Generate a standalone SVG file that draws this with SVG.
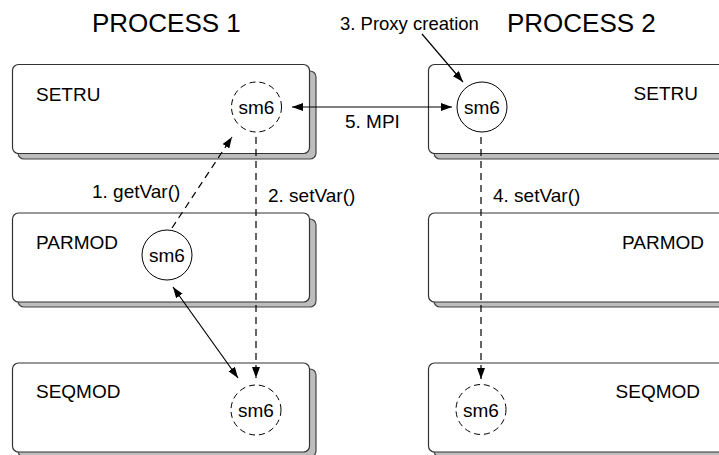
<svg xmlns="http://www.w3.org/2000/svg" width="719" height="455" viewBox="0 0 719 455">
<defs>
<style>
text{font-family:"Liberation Sans",Arial,sans-serif;fill:#000}
.title{font-size:26px}
.lbl{font-size:19px}
.edge{font-size:18.5px}
.box{fill:#fff;stroke:#333;stroke-width:1.2}
.shadow{fill:#bdbdbd;stroke:#444;stroke-width:1.2}
.circ{fill:#fff;stroke:#000;stroke-width:1}
.dcirc{fill:#fff;stroke:#000;stroke-width:1;stroke-dasharray:6 4}
.ln{fill:none;stroke:#000;stroke-width:1.2}
.dash{stroke-dasharray:7 5}
</style>
<marker id="ah" viewBox="0 0 11 8" markerWidth="11" markerHeight="8" refX="11" refY="4" orient="auto-start-reverse" markerUnits="userSpaceOnUse">
<path d="M0,0 L11,4 L0,8 z" fill="#000"/>
</marker>
</defs>
<rect width="719" height="455" fill="#fff"/>
<text class="title" x="92" y="32">PROCESS 1</text>
<text class="title" x="507" y="32">PROCESS 2</text>

<g id="setru1">
<rect class="shadow" x="18" y="71" width="298" height="88" rx="6"/>
<rect class="box" x="12.5" y="64.5" width="297" height="89" rx="6"/>
<text class="lbl" x="36" y="101">SETRU</text>
</g>
<g id="parmod1">
<rect class="shadow" x="18" y="219" width="298" height="88" rx="6"/>
<rect class="box" x="12.5" y="213" width="297" height="89" rx="6"/>
<text class="lbl" x="36" y="249">PARMOD</text>
</g>
<g id="seqmod1">
<rect class="shadow" x="18" y="369" width="298" height="88" rx="6"/>
<rect class="box" x="12.5" y="363" width="297" height="89" rx="6"/>
<text class="lbl" x="36" y="398">SEQMOD</text>
</g>
<g id="setru2">
<rect class="shadow" x="434" y="71" width="320" height="88" rx="6"/>
<rect class="box" x="428.5" y="64.5" width="320" height="89" rx="6"/>
<text class="lbl" x="698" y="100" text-anchor="end">SETRU</text>
</g>
<g id="parmod2">
<rect class="shadow" x="434" y="219" width="320" height="88" rx="6"/>
<rect class="box" x="428.5" y="213" width="320" height="89" rx="6"/>
<text class="lbl" x="704" y="249" text-anchor="end">PARMOD</text>
</g>
<g id="seqmod2">
<rect class="shadow" x="434" y="369" width="320" height="88" rx="6"/>
<rect class="box" x="428.5" y="363" width="320" height="89" rx="6"/>
<text class="lbl" x="700" y="398" text-anchor="end">SEQMOD</text>
</g>

<g id="sm6-setru1">
<circle class="dcirc" cx="256.5" cy="107" r="25"/>
<text class="lbl" x="256.5" y="114" text-anchor="middle">sm6</text>
</g>
<g id="sm6-setru2">
<circle class="circ" cx="482" cy="107" r="25"/>
<text class="lbl" x="482" y="114" text-anchor="middle">sm6</text>
</g>
<g id="sm6-parmod1">
<circle class="circ" cx="167" cy="255" r="25"/>
<text class="lbl" x="167" y="262" text-anchor="middle">sm6</text>
</g>
<g id="sm6-seqmod1">
<circle class="dcirc" cx="256" cy="410" r="25"/>
<text class="lbl" x="256" y="417" text-anchor="middle">sm6</text>
</g>
<g id="sm6-seqmod2">
<circle class="dcirc" cx="481" cy="409.5" r="25"/>
<text class="lbl" x="481" y="416.5" text-anchor="middle">sm6</text>
</g>

<g id="connectors">
<line class="ln" x1="292" y1="107" x2="452" y2="107" marker-start="url(#ah)" marker-end="url(#ah)"/>
<line class="ln" x1="422" y1="34" x2="463" y2="82" marker-end="url(#ah)"/>
<line class="ln dash" x1="172" y1="228" x2="232" y2="137" marker-end="url(#ah)"/>
<line class="ln dash" x1="256" y1="137" x2="256" y2="378" marker-end="url(#ah)"/>
<line class="ln" x1="173" y1="287" x2="238" y2="378" marker-start="url(#ah)" marker-end="url(#ah)"/>
<line class="ln dash" x1="481" y1="137" x2="481" y2="379" marker-end="url(#ah)"/>
<text class="edge" x="340" y="30">3. Proxy creation</text>
<text class="lbl" x="345" y="128">5. MPI</text>
<text class="lbl" x="92" y="198">1. getVar()</text>
<text class="lbl" x="268" y="202">2. setVar()</text>
<text class="lbl" x="493" y="202">4. setVar()</text>
</g>
</svg>
